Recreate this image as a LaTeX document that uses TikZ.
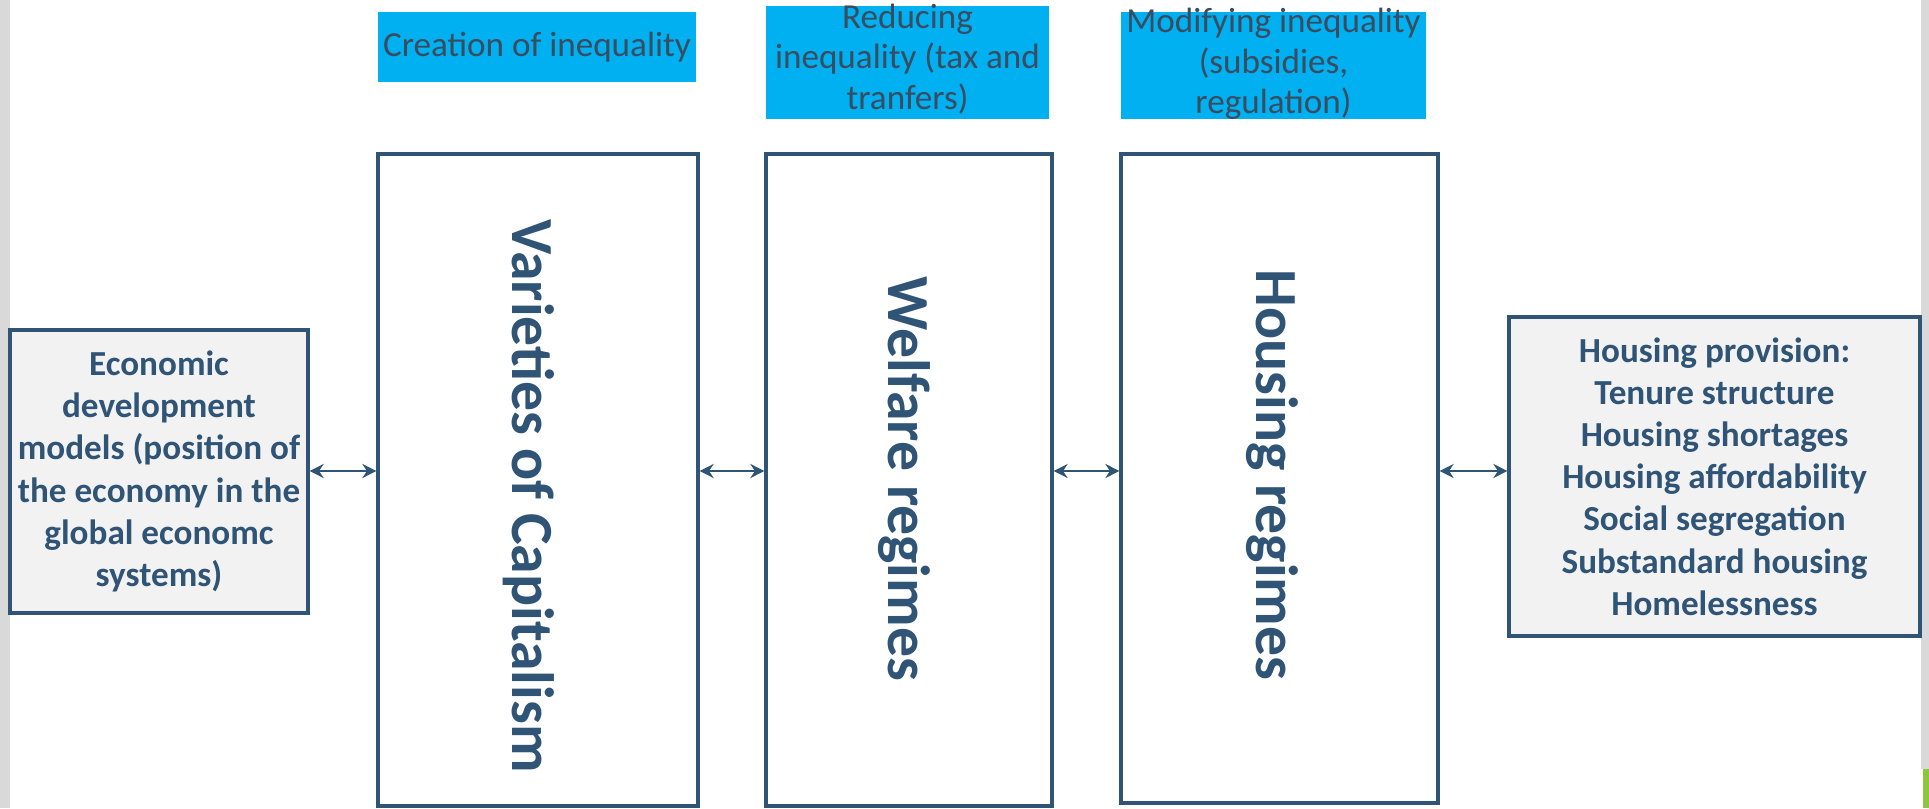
\documentclass[tikz,border=0pt]{standalone}
\usepackage{fontspec}
\setmainfont{Carlito}
\usepackage{tikz}
\usetikzlibrary{arrows.meta,positioning}
\definecolor{darkblue}{RGB}{47,84,117}
\definecolor{tagcyan}{RGB}{0,176,240}
\definecolor{tagink}{RGB}{58,76,96}
\definecolor{boxgrey}{RGB}{242,242,242}
\definecolor{slidegreen}{RGB}{140,198,63}

\begin{document}
\begin{tikzpicture}[
    regime/.style={draw=darkblue, line width=0.9pt, fill=white, minimum height=6.52cm, inner sep=0pt},
    side/.style={draw=darkblue, line width=0.9pt, fill=boxgrey, align=center, text=darkblue, font=\fontsize{10}{12}\selectfont\bfseries, inner sep=0pt},
    vtext/.style={rotate=-90, text=darkblue, font=\fontsize{17}{20}\selectfont\bfseries},
    tag/.style={fill=tagcyan, inner sep=0pt},
    tagtext/.style={align=center, text=tagink, font=\fontsize{10}{11.5}\selectfont},
    arr/.style={{Stealth[length=4pt,width=4pt]}-{Stealth[length=4pt,width=4pt]}, draw=darkblue, line width=0.6pt}
]
\useasboundingbox (0,0) rectangle (19.29,8.08);
\fill[gray!30] (0,0) rectangle (0.10,8.08);
\fill[gray!30] (19.21,0.39) rectangle (19.29,8.08);
\fill[slidegreen] (19.23,0) rectangle (19.29,0.39);

\node[tag, minimum width=3.18cm, minimum height=0.70cm] (creation) at (5.37,7.61) {};
\node[tagtext] (creation-txt) at (creation) {Creation of inequality};
\node[tag, minimum width=2.83cm, minimum height=1.13cm] (reducing) at (9.075,7.455) {};
\node[tagtext] (reducing-txt) at (9.075,7.49) {Reducing\\inequality (tax and\\tranfers)};
\node[tag, minimum width=3.05cm, minimum height=1.07cm] (modifying) at (12.735,7.425) {};
\node[tagtext] (modifying-txt) at (12.735,7.44) {Modifying inequality\\(subsidies,\\regulation)};

\node[regime, minimum width=3.20cm] (varieties) at (5.38,3.28) {};
\node[vtext] (varieties-txt) at (5.29,3.12) {Varieties of Capitalism};
\node[regime, minimum width=2.86cm] (welfare) at (9.09,3.28) {};
\node[vtext] (welfare-txt) at (9.04,3.29) {Welfare regimes};
\node[regime, minimum width=3.17cm, minimum height=6.49cm] (housing) at (12.795,3.295) {};
\node[vtext] (housing-txt) at (12.72,3.33) {Housing regimes};

\node[side, minimum width=2.98cm, minimum height=2.83cm] (economic) at (1.59,3.365) {Economic\\development\\models (position of\\the economy in the\\global economc\\systems)};
\node[side, minimum width=4.11cm, minimum height=3.19cm] (provision) at (17.145,3.315) {Housing provision:\\Tenure structure\\Housing shortages\\Housing affordability\\Social segregation\\Substandard housing\\Homelessness};

\coordinate (mid) at (0,3.37);
\draw[arr] (economic.east |- mid) -- (varieties.west |- mid);
\draw[arr] (varieties.east |- mid) -- (welfare.west |- mid);
\draw[arr] (welfare.east |- mid) -- (housing.west |- mid);
\draw[arr] (housing.east |- mid) -- (provision.west |- mid);
\end{tikzpicture}
\end{document}
